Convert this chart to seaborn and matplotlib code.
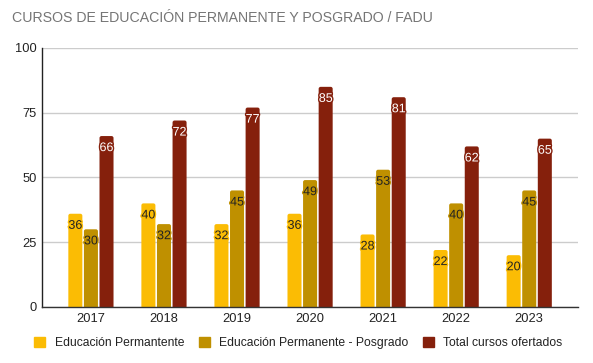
import matplotlib
matplotlib.use("Agg")
import matplotlib.pyplot as plt
import matplotlib.patheffects as pe
from matplotlib.patches import FancyBboxPatch
import seaborn as sns
import pandas as pd

years = ["2017", "2018", "2019", "2020", "2021", "2022", "2023"]
educ_permanente = [36, 40, 32, 36, 28, 22, 20]
educ_posgrado = [30, 32, 45, 49, 53, 40, 45]
total_cursos = [66, 72, 77, 85, 81, 62, 65]
series_names = ["Educación Permantente", "Educación Permanente - Posgrado", "Total cursos ofertados"]
colors = ["#FBBC04", "#BF9000", "#85200C"]
label_colors = ["#222222", "#222222", "#FFFFFF"]
title = "CURSOS DE EDUCACIÓN PERMANENTE Y POSGRADO / FADU"
yticks = [0, 25, 50, 75, 100]

rows = []
for name, vals in zip(series_names, [educ_permanente, educ_posgrado, total_cursos]):
    for y, v in zip(years, vals):
        rows.append({"Año": y, "Serie": name, "Valor": v})
df = pd.DataFrame(rows)

sns.set_theme(style="white")
plt.rcParams["font.family"] = ["Liberation Sans", "DejaVu Sans"]

fig = plt.figure(figsize=(5.93, 3.63), dpi=100)
ax = fig.add_axes([0.0708, 0.1543, 0.9042, 0.7135])

sns.barplot(data=df, x="Año", y="Valor", hue="Serie", hue_order=series_names,
            palette=colors, width=0.64, gap=0.1, ax=ax, saturation=1,
            legend=True, edgecolor="none", linewidth=0)

ax.set_ylim(0, 100)
ax.set_xlim(-0.67, 6.67)
ax.set_yticks(yticks)
ax.set_yticklabels([str(t) for t in yticks], fontsize=9.3, color="#222222")
ax.tick_params(axis="x", labelsize=9.3, colors="#222222", length=0, pad=4)
ax.tick_params(axis="y", length=0, pad=4)
ax.set_xlabel("")
ax.set_ylabel("")
ax.yaxis.grid(True, color="#cccccc", linewidth=1)
ax.set_axisbelow(True)
for s in ["top", "right"]:
    ax.spines[s].set_visible(False)
ax.spines["left"].set_color("#222222")
ax.spines["left"].set_linewidth(1)
ax.spines["bottom"].set_color("#333333")
ax.spines["bottom"].set_linewidth(1)
ax.spines["bottom"].set_zorder(5)

# rounded tops: replace rectangles with rounded boxes (geometry taken from seaborn's bars)
fig.canvas.draw()
px_x = (ax.get_xlim()[1] - ax.get_xlim()[0]) / ax.bbox.width
px_y = (ax.get_ylim()[1] - ax.get_ylim()[0]) / ax.bbox.height
r = 2.0 * px_x
for cont, col, lc in zip(ax.containers, colors, label_colors):
    labels = ax.bar_label(cont, fmt="%d", label_type="edge", padding=-13,
                          fontsize=9, color=lc)
    for t in labels:
        t.set_path_effects([pe.withStroke(linewidth=2, foreground=col)])
    for p in cont.patches:
        x, w, h = p.get_x(), p.get_width(), p.get_height()
        fb = FancyBboxPatch((x, -5 * px_y), w, h + 5 * px_y,
                            boxstyle=f"round,pad=0,rounding_size={r}",
                            mutation_aspect=px_y / px_x,
                            facecolor=col, edgecolor="none", zorder=p.get_zorder())
        p.set_visible(False)
        ax.add_patch(fb)

ax.get_legend().remove()
handles = [plt.Rectangle((0, 0), 1, 1, color=c) for c in colors]
fig.legend(handles, series_names, loc="center", bbox_to_anchor=(0.503, 0.055),
           ncol=3, frameon=False, fontsize=8.7, handlelength=0.95, handleheight=0.95,
           handletextpad=0.75, columnspacing=1.2, labelcolor="#222222")

fig.text(0.02, 0.95, title, fontsize=10.2, color="#757575", ha="left", va="center")

fig.savefig("out.png", dpi=100)
